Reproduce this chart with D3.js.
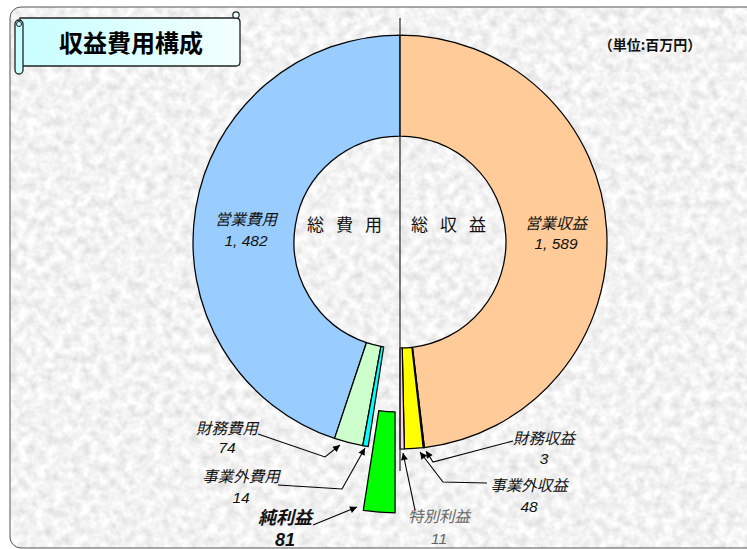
<!DOCTYPE html>
<html><head><meta charset="utf-8">
<script src="https://cdn.jsdelivr.net/npm/d3@7"></script>
<style>
html,body{margin:0;padding:0;background:#fff;}
svg{display:block;font-family:"Noto Sans CJK JP","Noto Sans",sans-serif;}
</style></head>
<body><svg id="c" width="747" height="549"></svg>
<script>
// ---- data ----
const title = "収益費用構成";
const unitLabel = "（単位:百万円）";
const revenueCategories = ["営業収益", "財務収益", "事業外収益", "特別利益"];
const revenueValues = [1589, 3, 48, 11];
const expenseCategories = ["営業費用", "財務費用", "事業外費用", "純利益"];
const expenseValues = [1482, 74, 14, 81];
const revenueCenterLabel = "総収益";
const expenseCenterLabel = "総費用";

// ---- styles ----
const revenueColors = ["#ffcc99", "#222222", "#ffff00", "#ffccee"];
const expenseColors = ["#99ccff", "#ccffcc", "#00ffff", "#00ff00"];

const svg = d3.select("#c");
const defs = svg.append("defs");

// textured background
const f = defs.append("filter").attr("id","tex").attr("x",0).attr("y",0).attr("width","100%").attr("height","100%");
f.append("feTurbulence").attr("type","fractalNoise").attr("baseFrequency","0.11").attr("numOctaves",3).attr("seed",7).attr("result","n");
f.append("feColorMatrix").attr("in","n").attr("type","matrix")
 .attr("values","0.45 0 0 0 0.67  0.45 0 0 0 0.67  0.45 0 0 0 0.67  0 0 0 0 1").attr("result","g");
f.append("feComposite").attr("in","g").attr("in2","SourceGraphic").attr("operator","in");

const grad = defs.append("linearGradient").attr("id","ttl").attr("x1","0").attr("x2","1").attr("y1","0").attr("y2","0");
grad.append("stop").attr("offset","0").attr("stop-color","#c8ffff");
grad.append("stop").attr("offset","1").attr("stop-color","#f4ffff");

const mk = defs.append("marker").attr("id","arr").attr("viewBox","0 0 10 10").attr("refX",10).attr("refY",5)
  .attr("markerWidth",9).attr("markerHeight",7).attr("markerUnits","userSpaceOnUse").attr("orient","auto");
mk.append("path").attr("d","M0,0 L10,5 L0,10 Z").attr("fill","#000");

// frame
svg.append("rect").attr("x",10).attr("y",7).attr("width",760).attr("height",541).attr("rx",11)
  .attr("fill","#fff").attr("filter","url(#tex)");
svg.append("rect").attr("x",10).attr("y",7).attr("width",760).attr("height",541).attr("rx",11)
  .attr("fill","none").attr("stroke","#555").attr("stroke-width",1);

// title banner
const tb = svg.append("g");
tb.append("path").attr("d","M20,18 L236,18 Q240,18 240,22 L240,62 Q240,66 236,66 L20,66 Z")
  .attr("fill","url(#ttl)").attr("stroke","#222").attr("stroke-width",1.3);
tb.append("rect").attr("x",15).attr("y",20).attr("width",8).attr("height",54).attr("rx",4)
  .attr("fill","#c8ffff").attr("stroke","#222").attr("stroke-width",1.3);
tb.append("circle").attr("cx",19).attr("cy",24).attr("r",2.5).attr("fill","none").attr("stroke","#222").attr("stroke-width",1);
tb.append("circle").attr("cx",236).attr("cy",15).attr("r",3.2).attr("fill","#e8ffff").attr("stroke","#222").attr("stroke-width",1.2);
tb.append("text").attr("x",131).attr("y",52).attr("text-anchor","middle").attr("font-size",24).attr("font-weight","bold")
  .attr("fill","#000").text(title);

svg.append("text").attr("x",650).attr("y",50).attr("text-anchor","middle").attr("font-size",14).attr("font-weight","bold")
  .attr("fill","#111").text(unitLabel);

// donut
const cx = 400, cy = 242, R = 207, r0 = 106;
const g = svg.append("g").attr("transform",`translate(${cx},${cy})`);
const arc = d3.arc().innerRadius(r0).outerRadius(R);

const revData = revenueCategories.map((c,i)=>({name:c, v:revenueValues[i], color:revenueColors[i]}));
const expData = expenseCategories.map((c,i)=>({name:c, v:expenseValues[i], color:expenseColors[i]}));

const revPie = d3.pie().sort(null).value(d=>d.v).startAngle(0).endAngle(Math.PI)(revData);
const expPie = d3.pie().sort(null).value(d=>d.v).startAngle(0).endAngle(-Math.PI)(expData);

const explodeName = "純利益";
function off(d){
  if(d.data.name!==explodeName) return [0,0];
  const a=(d.startAngle+d.endAngle)/2, k=64;
  return [Math.sin(a)*k, -Math.cos(a)*k];
}
g.selectAll("path.s").data(expPie.concat(revPie)).join("path").attr("class","s")
  .attr("d",arc).attr("fill",d=>d.data.color).attr("stroke","#000").attr("stroke-width",1.25)
  .attr("stroke-linejoin","round")
  .attr("transform",d=>{const o=off(d);return `translate(${o[0]},${o[1]})`;});

// divider line
svg.append("line").attr("x1",cx).attr("x2",cx).attr("y1",18).attr("y2",471).attr("stroke","#333").attr("stroke-width",1.3);

// center labels
function spaced(t,x,y){
  svg.append("text").attr("x",x).attr("y",y).attr("font-size",17).attr("letter-spacing","12px").attr("fill","#111").text(t);
}
spaced(expenseCenterLabel,307,231);
spaced(revenueCenterLabel,411,231);

// value labels
const fmt = v => d3.format(",")(v).replace(/,/g,", ");
const layout = {
  "営業費用":   {x:246, y:225, y2:246, size:15.5},
  "営業収益":   {x:556, y:229, y2:249, size:15.5},
  "財務費用":   {x:227, y:434, y2:453, size:15.5},
  "事業外費用": {x:241, y:482, y2:503, size:15.5},
  "純利益":     {x:285, y:524, y2:546, size:18, bold:true},
  "財務収益":   {x:544, y:444, y2:464, size:15.5},
  "事業外収益": {x:529, y:491, y2:512, size:15.5},
  "特別利益":   {x:439, y:522, y2:544, size:15.5, color:"#666"}
};
const all = expData.concat(revData);
const lg = svg.append("g").attr("text-anchor","middle").attr("font-style","italic");
all.forEach(d=>{
  const L = layout[d.name];
  const t = lg.append("g").attr("fill",L.color||"#111").attr("font-size",L.size)
     .attr("font-weight",L.bold?"bold":"normal");
  t.append("text").attr("x",L.x).attr("y",L.y).text(d.name);
  t.append("text").attr("x",L.x).attr("y",L.y2).attr("font-family",'"Liberation Sans",Arial,sans-serif').text(fmt(d.v));
});

// leader lines
const leaders = [
  [[258,434],[325,457],[340,445]],
  [[278,485],[342,489],[365,448]],
  [[313,525],[357,507]],
  [[513,441],[433,462],[426,451]],
  [[487,483],[443,482],[420,452]],
  [[415,510],[403,453]]
];
svg.selectAll("path.ld").data(leaders).join("path").attr("class","ld")
  .attr("d",d=>d3.line()(d)).attr("fill","none").attr("stroke","#000").attr("stroke-width",1.1)
  .attr("marker-end","url(#arr)");
</script></body></html>
